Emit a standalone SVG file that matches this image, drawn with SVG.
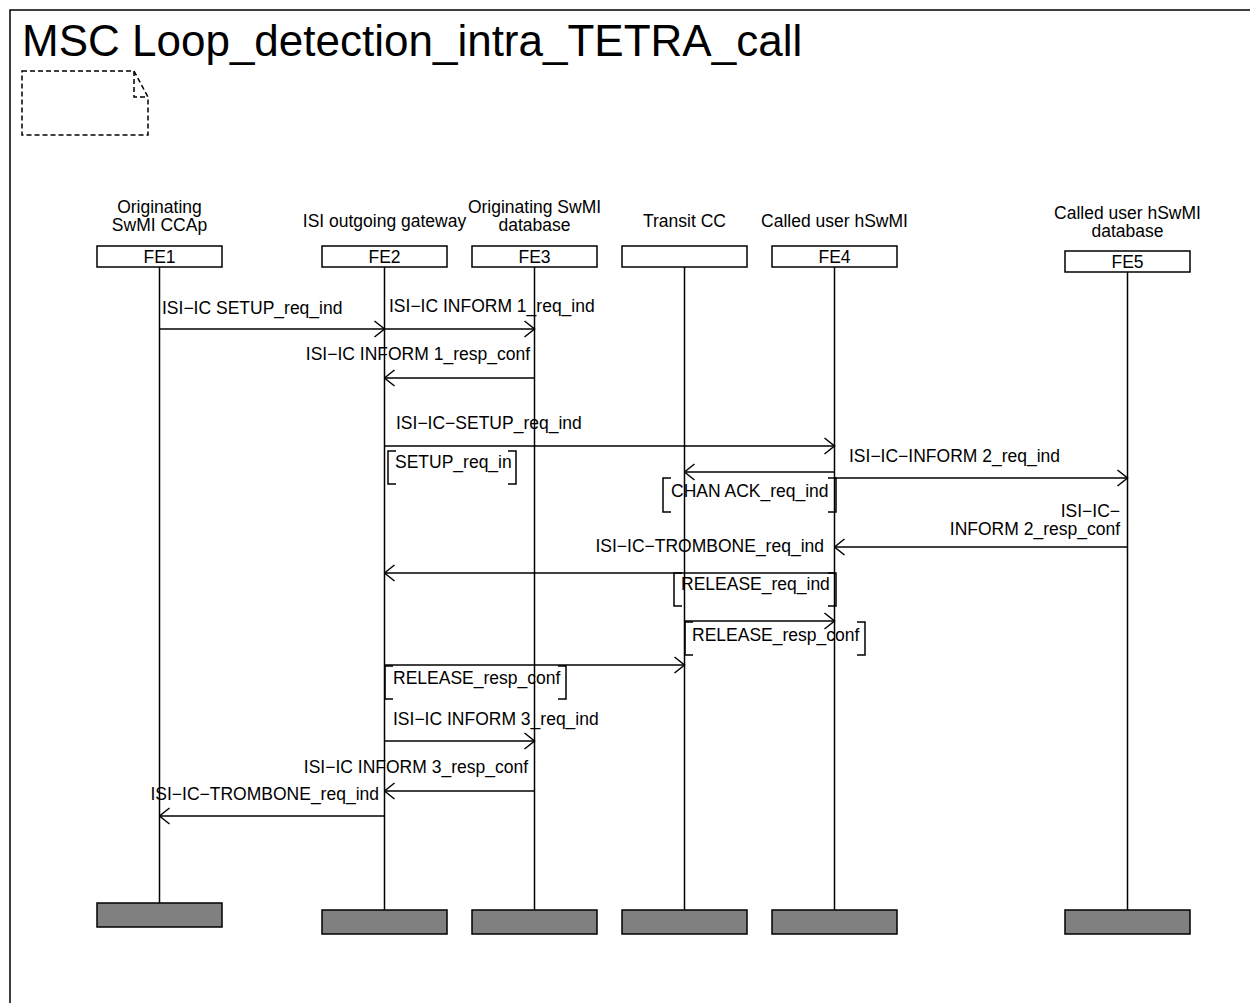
<svg xmlns="http://www.w3.org/2000/svg" width="1250" height="1003" viewBox="0 0 1250 1003">
<style>
text{font-family:"Liberation Sans",Arial,sans-serif;font-size:17.5px;fill:#000}
.t{font-size:44px}
.m{text-anchor:middle}
.e{text-anchor:end}
.hb{fill:#fff;stroke:#000;stroke-width:1.5}
.bb{fill:#808080;stroke:#000;stroke-width:1.5}
.ll{stroke:#000;stroke-width:1.5;fill:none}
.msg{stroke:#000;stroke-width:1.5;fill:none;marker-end:url(#ah)}
.act{stroke:#000;stroke-width:1.5;fill:none}
</style>
<defs>
<marker id="ah" markerUnits="userSpaceOnUse" viewBox="0 0 12 18" refX="11" refY="9" markerWidth="12" markerHeight="18" orient="auto">
<path d="M1,1 L11,9 L1,17" fill="none" stroke="#000" stroke-width="1.5"/>
</marker>
</defs>
<rect x="0" y="0" width="1250" height="1003" fill="#fff"/>
<rect x="10" y="10" width="1260" height="1010" fill="none" stroke="#000" stroke-width="1.5"/>
<text class="t" x="22" y="56">MSC Loop_detection_intra_TETRA_call</text>
<g id="note">
<path d="M22,71 L134,71 L148,97 L148,135 L22,135 Z M134,71 L134,97 L148,97" fill="none" stroke="#000" stroke-width="1.5" stroke-dasharray="5,3"/>
</g>
<g id="FE1">
<text class="m" x="159.5" y="213">Originating</text>
<text class="m" x="159.5" y="231">SwMI CCAp</text>
<rect class="hb" x="97" y="246" width="125" height="21"/>
<text class="m" x="159.5" y="263">FE1</text>
<line class="ll" x1="159.5" y1="267" x2="159.5" y2="903"/>
<rect class="bb" x="97" y="903" width="125" height="24"/>
</g>
<g id="FE2">
<text class="m" x="384.5" y="227">ISI outgoing gateway</text>
<rect class="hb" x="322" y="246" width="125" height="21"/>
<text class="m" x="384.5" y="263">FE2</text>
<line class="ll" x1="384.5" y1="267" x2="384.5" y2="910"/>
<rect class="bb" x="322" y="910" width="125" height="24"/>
</g>
<g id="FE3">
<text class="m" x="534.5" y="213">Originating SwMI</text>
<text class="m" x="534.5" y="231">database</text>
<rect class="hb" x="472" y="246" width="125" height="21"/>
<text class="m" x="534.5" y="263">FE3</text>
<line class="ll" x1="534.5" y1="267" x2="534.5" y2="910"/>
<rect class="bb" x="472" y="910" width="125" height="24"/>
</g>
<g id="TransitCC">
<text class="m" x="684.5" y="227">Transit CC</text>
<rect class="hb" x="622" y="246" width="125" height="21"/>
<line class="ll" x1="684.5" y1="267" x2="684.5" y2="910"/>
<rect class="bb" x="622" y="910" width="125" height="24"/>
</g>
<g id="FE4">
<text class="m" x="834.5" y="227">Called user hSwMI</text>
<rect class="hb" x="772" y="246" width="125" height="21"/>
<text class="m" x="834.5" y="263">FE4</text>
<line class="ll" x1="834.5" y1="267" x2="834.5" y2="910"/>
<rect class="bb" x="772" y="910" width="125" height="24"/>
</g>
<g id="FE5">
<text class="m" x="1127.5" y="219">Called user hSwMI</text>
<text class="m" x="1127.5" y="237">database</text>
<rect class="hb" x="1065" y="251" width="125" height="21"/>
<text class="m" x="1127.5" y="268">FE5</text>
<line class="ll" x1="1127.5" y1="272" x2="1127.5" y2="910"/>
<rect class="bb" x="1065" y="910" width="125" height="24"/>
</g>
<g id="actions">
<path class="act" d="M396,451 H388 V484 H396 M508,451 H516 V484 H508"/>
<text x="395" y="468">SETUP_req_in</text>
<path class="act" d="M671,478 H663 V512 H671 M828,478 H836 V512 H828"/>
<text x="671" y="497">CHAN ACK_req_ind</text>
<path class="act" d="M682,573 H674 V606 H682 M828,573 H836 V606 H828"/>
<text x="681" y="590">RELEASE_req_ind</text>
<path class="act" d="M693,622 H685 V655 H693 M857,622 H865 V655 H857"/>
<text x="692" y="641">RELEASE_resp_conf</text>
<path class="act" d="M393,666 H385 V699 H393 M558,666 H566 V699 H558"/>
<text x="393" y="684">RELEASE_resp_conf</text>
</g>
<g id="connectors">
<line class="msg" x1="159.5" y1="329" x2="384.5" y2="329"/>
<line class="msg" x1="384.5" y1="329" x2="534.5" y2="329"/>
<line class="msg" x1="534.5" y1="378" x2="384.5" y2="378"/>
<line class="msg" x1="384.5" y1="446" x2="834.5" y2="446"/>
<line class="msg" x1="834.5" y1="472" x2="684.5" y2="472"/>
<line class="msg" x1="834.5" y1="478" x2="1127.5" y2="478"/>
<line class="msg" x1="1127.5" y1="547" x2="834.5" y2="547"/>
<line class="msg" x1="834.5" y1="573" x2="384.5" y2="573"/>
<line class="msg" x1="684.5" y1="621" x2="834.5" y2="621"/>
<line class="msg" x1="384.5" y1="665" x2="684.5" y2="665"/>
<line class="msg" x1="384.5" y1="741" x2="534.5" y2="741"/>
<line class="msg" x1="534.5" y1="791" x2="384.5" y2="791"/>
<line class="msg" x1="384.5" y1="816" x2="159.5" y2="816"/>
</g>
<g id="labels">
<text x="162" y="314">ISI−IC SETUP_req_ind</text>
<text x="389" y="312">ISI−IC INFORM 1_req_ind</text>
<text class="e" x="530" y="360">ISI−IC INFORM 1_resp_conf</text>
<text x="396" y="429">ISI−IC−SETUP_req_ind</text>
<text x="849" y="462">ISI−IC−INFORM 2_req_ind</text>
<text class="e" x="1120" y="517">ISI−IC−</text>
<text class="e" x="1120" y="535">INFORM 2_resp_conf</text>
<text class="e" x="824" y="552">ISI−IC−TROMBONE_req_ind</text>
<text x="393" y="725">ISI−IC INFORM 3_req_ind</text>
<text class="e" x="528" y="773">ISI−IC INFORM 3_resp_conf</text>
<text class="e" x="379" y="800">ISI−IC−TROMBONE_req_ind</text>
</g>
</svg>
